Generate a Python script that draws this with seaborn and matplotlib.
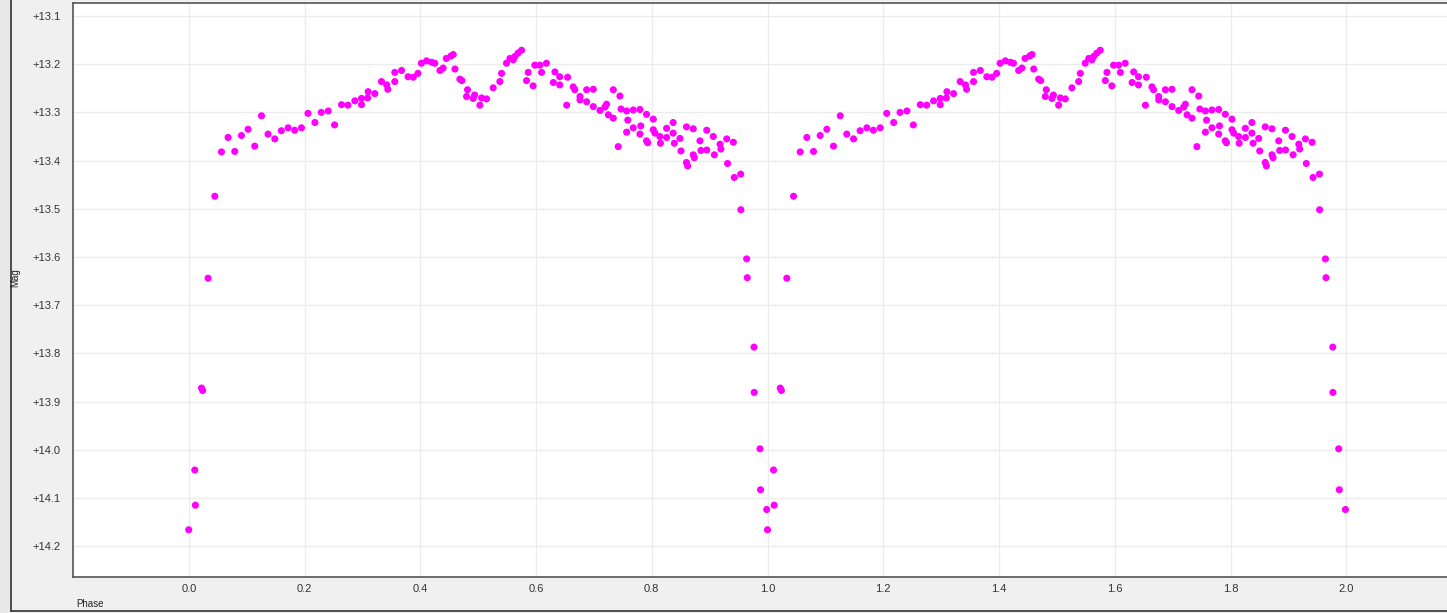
import numpy as np
import pandas as pd
import matplotlib
matplotlib.use("Agg")
import matplotlib.pyplot as plt
from matplotlib.lines import Line2D
from matplotlib.ticker import FixedLocator, FuncFormatter
import seaborn as sns

# Phase-folded photometry (one cycle); drawn twice, at phase and phase + 1
phase = [
    0.000, 0.0104, 0.0115, 0.022, 0.024, 0.0334, 0.045, 0.0565, 0.068, 0.0795,
    0.091, 0.1025, 0.114, 0.1257, 0.137, 0.1487, 0.160, 0.1717, 0.183, 0.1948,
    0.206, 0.218, 0.229, 0.241, 0.252, 0.264, 0.275, 0.287, 0.2985, 0.2985,
    0.309, 0.310, 0.3215, 0.333, 0.342, 0.344, 0.356, 0.356, 0.3677, 0.379,
    0.388, 0.396, 0.402, 0.411, 0.4195, 0.425, 0.434, 0.4396, 0.445, 0.453,
    0.457, 0.460, 0.4685, 0.472, 0.4817, 0.480, 0.4915, 0.494, 0.503, 0.506,
    0.5146, 0.526, 0.5376, 0.5405, 0.549, 0.555, 0.5606, 0.5635, 0.569, 0.575,
    0.5837, 0.5865, 0.595, 0.598, 0.6067, 0.6097, 0.618, 0.630, 0.6327, 0.641,
    0.641, 0.653, 0.6546, 0.6643, 0.667, 0.676, 0.676, 0.6875, 0.6875, 0.699,
    0.699, 0.7105, 0.719, 0.722, 0.725, 0.7335, 0.7335, 0.742, 0.745, 0.747,
    0.7566, 0.7586, 0.7566, 0.768, 0.768, 0.7796, 0.7796, 0.781, 0.791, 0.791,
    0.793, 0.8026, 0.8026, 0.8055, 0.814, 0.815, 0.8257, 0.8257, 0.837, 0.837,
    0.839, 0.8487, 0.8505, 0.860, 0.860, 0.862, 0.8717, 0.8717, 0.8735, 0.8833,
    0.885, 0.895, 0.895, 0.9063, 0.9082, 0.918, 0.9195, 0.9295, 0.931, 0.941,
    0.9426, 0.9537, 0.954, 0.964, 0.965, 0.9767, 0.977, 0.987, 0.988, 0.9986,
]
mag = [
    14.166, 14.042, 14.115, 13.872, 13.877, 13.644, 13.474, 13.382, 13.352, 13.381,
    13.348, 13.335, 13.370, 13.307, 13.345, 13.355, 13.338, 13.332, 13.337, 13.332,
    13.302, 13.321, 13.300, 13.297, 13.326, 13.284, 13.285, 13.276, 13.284, 13.271,
    13.270, 13.257, 13.261, 13.236, 13.243, 13.252, 13.217, 13.236, 13.213, 13.226,
    13.227, 13.219, 13.198, 13.193, 13.196, 13.198, 13.213, 13.208, 13.188, 13.183,
    13.180, 13.210, 13.231, 13.234, 13.253, 13.267, 13.271, 13.264, 13.285, 13.270,
    13.272, 13.249, 13.236, 13.219, 13.198, 13.188, 13.191, 13.184, 13.177, 13.171,
    13.234, 13.217, 13.245, 13.202, 13.202, 13.217, 13.198, 13.238, 13.216, 13.226,
    13.243, 13.285, 13.227, 13.247, 13.253, 13.267, 13.274, 13.253, 13.278, 13.252,
    13.288, 13.296, 13.289, 13.283, 13.305, 13.253, 13.312, 13.371, 13.266, 13.293,
    13.297, 13.316, 13.341, 13.295, 13.332, 13.294, 13.345, 13.328, 13.304, 13.359,
    13.363, 13.314, 13.336, 13.343, 13.350, 13.364, 13.333, 13.352, 13.321, 13.343,
    13.364, 13.354, 13.380, 13.330, 13.404, 13.411, 13.334, 13.388, 13.394, 13.359,
    13.379, 13.337, 13.378, 13.350, 13.388, 13.366, 13.376, 13.355, 13.406, 13.362,
    13.435, 13.428, 13.502, 13.604, 13.643, 13.787, 13.881, 13.998, 14.083, 14.124,
]

x_ticks = [0.0, 0.2, 0.4, 0.6, 0.8, 1.0, 1.2, 1.4, 1.6, 1.8, 2.0]
y_ticks = [13.1, 13.2, 13.3, 13.4, 13.5, 13.6, 13.7, 13.8, 13.9, 14.0, 14.1, 14.2]

one = pd.DataFrame({"Phase": phase, "Mag": mag})
two = one.assign(Phase=one["Phase"] + 1.0)
curve = pd.concat([one, two], ignore_index=True)

sns.set_theme(style="white")
plt.rcParams["font.family"] = ["Liberation Sans", "DejaVu Sans"]

W, H = 1447, 613
fig = plt.figure(figsize=(W / 100, H / 100), dpi=100, facecolor="#f0f0f0")

# plot area in pixel terms: left 73, top 3, bottom 577, runs past the right edge
left, top, bottom, right = 73, 3, 577, 1462
ax = fig.add_axes([left / W, 1 - bottom / H, (right - left) / W, (bottom - top) / H])
ax.set_facecolor("white")

sns.scatterplot(data=curve, x="Phase", y="Mag", ax=ax, color="#ff00ff",
                s=26, linewidth=0, edgecolor="none", zorder=3)

ax.set_xlim(-0.2, 2.2)
ax.set_ylim(14.264, 13.073)

ax.xaxis.set_major_locator(FixedLocator(x_ticks))
ax.yaxis.set_major_locator(FixedLocator(y_ticks))
ax.xaxis.set_major_formatter(FuncFormatter(lambda v, p: f"{v:.1f}"))
ax.yaxis.set_major_formatter(FuncFormatter(lambda v, p: f"+{v:.1f}"))
ax.grid(True, color="#ececec", linewidth=1.0, zorder=0)
ax.set_axisbelow(True)
ax.tick_params(axis="both", length=0, labelsize=8, labelcolor="#333333")
ax.tick_params(axis="y", pad=9)
ax.tick_params(axis="x", pad=5)

for side in ("left", "bottom", "top"):
    ax.spines[side].set_color("#555555")
    ax.spines[side].set_linewidth(1.2)
ax.spines["right"].set_visible(False)

ax.set_xlabel("")
ax.set_ylabel("")
fig.text(15 / W, 1 - 278 / H, "Mag", rotation=90, fontsize=7, color="#222222",
         ha="center", va="center")
fig.text(76 / W, 1 - 604 / H, "Phase", fontsize=7, color="#222222",
         ha="left", va="center")

# outer frame of the panel
fig.add_artist(Line2D([11 / W, 11 / W], [1 - 611 / H, 1.0], color="#333333", linewidth=1.2))
fig.add_artist(Line2D([11 / W, 1.0], [1 - 611 / H, 1 - 611 / H], color="#333333", linewidth=1.2))
fig.patches.append(plt.Rectangle((0, 0), 10.5 / W, 1, transform=fig.transFigure,
                                 facecolor="#e8e8e8", edgecolor="none", zorder=-1))

fig.savefig("out.png", dpi=100, facecolor=fig.get_facecolor())
